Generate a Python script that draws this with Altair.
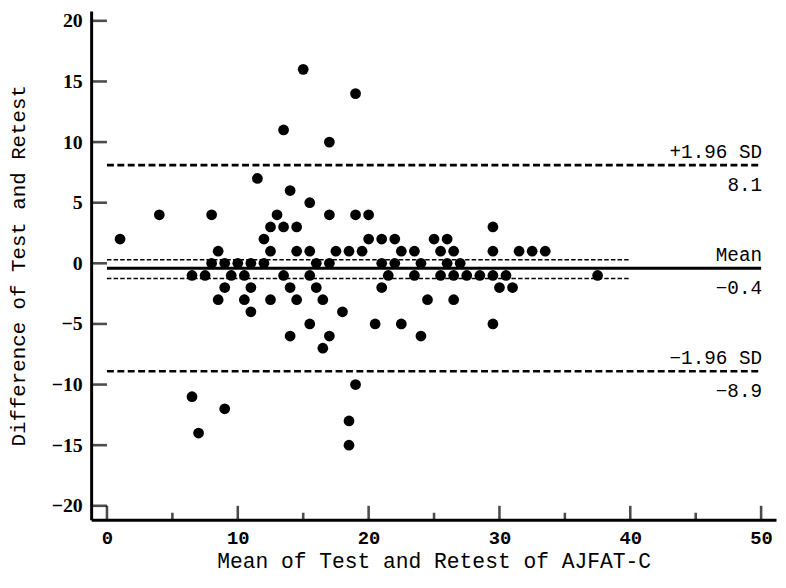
import altair as alt
import pandas as pd

# Bland-Altman data: mean of test/retest (x) and difference (y)
mean_vals = [1, 4, 6.5, 6.5, 7, 7.5, 8, 8, 8.5, 8.5, 9, 9, 9, 9.5, 10, 10.5, 10.5,
             11, 11, 11, 11.5, 12, 12, 12.5, 12.5, 12.5, 13, 13.5, 13.5, 13.5,
             14, 14, 14, 14.5, 14.5, 14.5, 15, 15.5, 15.5, 15.5, 15.5, 16, 16,
             16.5, 16.5, 17, 17, 17, 17, 17.5, 18, 18.5, 18.5, 18.5, 19, 19, 19,
             19.5, 20, 20, 20.5, 21, 21, 21, 21.5, 22, 22, 22.5, 22.5, 23.5, 23.5,
             24, 24, 24.5, 25, 25.5, 25.5, 26, 26, 26.5, 26.5, 26.5, 27, 27.5,
             28.5, 29.5, 29.5, 29.5, 29.5, 30, 30.5, 31, 31.5, 32.5, 33.5, 37.5]
diff_vals = [2, 4, -1, -11, -14, -1, 4, 0, 1, -3, 0, -2, -12, -1, 0, -1, -3,
             0, -2, -4, 7, 2, 0, 3, 1, -3, 4, 11, 3, -1,
             6, -2, -6, 3, 1, -3, 16, 5, 1, -1, -5, 0, -2,
             -3, -7, 10, 4, 0, -6, 1, -4, 1, -13, -15, 14, 4, -10,
             1, 4, 2, -5, 2, 0, -2, -1, 2, 0, 1, -5, 1, -1,
             0, -6, -3, 2, 1, -1, 2, 0, 1, -1, -3, 0, -1,
             -1, 3, 1, -1, -5, -2, -1, -2, 1, 1, 1, -1]

# Reference lines
sd_levels = [8.1, -8.9]
mean_level = [-0.4]
ci_levels = [0.3, -1.25]
line_start = 0
line_end = 50
ci_end = 40

# Annotations
label_above = ["+1.96 SD", "Mean", "−1.96 SD"]
label_below = ["8.1", "−0.4", "−8.9"]
label_levels = [8.1, -0.4, -8.9]

x_ticks_major = [0, 10, 20, 30, 40, 50]
x_ticks_minor = [5, 15, 25, 35, 45]
y_ticks = [-20, -15, -10, -5, 0, 5, 10, 15, 20]

W, H = 692, 514
xs = alt.Scale(domain=[-1.21, 51.14], nice=False, zero=False)
ys = alt.Scale(domain=[-21.143, 20.816], nice=False, zero=False)

MONO = "Liberation Mono"

pts = pd.DataFrame({"m": mean_vals, "d": diff_vals})

points = alt.Chart(pts).mark_circle(size=118, color="black", opacity=1).encode(
    x=alt.X("m:Q", scale=xs, axis=alt.Axis(
        values=x_ticks_major, ticks=False, grid=False, domainColor="black",
        domainWidth=3, labelFont=MONO, labelFontSize=19, labelFontWeight="bold",
        labelColor="black", labelPadding=9,
        title="Mean of Test and Retest of AJFAT-C",
        titleFont=MONO, titleFontSize=21.5, titleFontWeight="normal",
        titleColor="black", titlePadding=3)),
    y=alt.Y("d:Q", scale=ys, axis=alt.Axis(
        values=y_ticks, ticks=False, grid=False, domainColor="black",
        domainWidth=3, labelFont="Liberation Serif", labelFontWeight="bold",
        labelFontSize=20, labelColor="black", labelPadding=9,
        title="Difference of Test and Retest", titleFont=MONO,
        titleFontSize=21, titleFontWeight="normal", titleColor="black",
        titlePadding=23)),
)

sd_df = pd.DataFrame({"y": sd_levels, "x0": [line_start] * 2, "x1": [line_end] * 2})
sd_lines = alt.Chart(sd_df).mark_rule(color="black", strokeWidth=2.6, strokeDash=[7, 3.5]).encode(
    x=alt.X("x0:Q", scale=xs), x2="x1:Q", y=alt.Y("y:Q", scale=ys))

mean_df = pd.DataFrame({"y": mean_level, "x0": [line_start], "x1": [line_end]})
mean_line = alt.Chart(mean_df).mark_rule(color="black", strokeWidth=3).encode(
    x=alt.X("x0:Q", scale=xs), x2="x1:Q", y=alt.Y("y:Q", scale=ys))

ci_df = pd.DataFrame({"y": ci_levels, "x0": [line_start] * 2, "x1": [ci_end] * 2})
ci_lines = alt.Chart(ci_df).mark_rule(color="black", strokeWidth=1.6, strokeDash=[4.5, 2.2]).encode(
    x=alt.X("x0:Q", scale=xs), x2="x1:Q", y=alt.Y("y:Q", scale=ys))

lab_df = pd.DataFrame({"x": [line_end] * 3, "y": label_levels,
                       "above": label_above, "below": label_below})
text_above = alt.Chart(lab_df).mark_text(
    align="right", baseline="alphabetic", dx=1, dy=-7, font=MONO,
    fontSize=19.5, color="black").encode(
    x=alt.X("x:Q", scale=xs), y=alt.Y("y:Q", scale=ys), text="above:N")
text_below = alt.Chart(lab_df).mark_text(
    align="right", baseline="top", dx=1, dy=11, font=MONO,
    fontSize=19.5, color="black").encode(
    x=alt.X("x:Q", scale=xs), y=alt.Y("y:Q", scale=ys), text="below:N")

ytick_layer = alt.Chart(pd.DataFrame({"v": y_ticks})).mark_tick(
    orient="horizontal", size=16, thickness=2.6, color="black").encode(
    y=alt.Y("v:Q", scale=ys), x=alt.value(8))
xmaj_layer = alt.Chart(pd.DataFrame({"v": x_ticks_major})).mark_tick(
    orient="vertical", size=14, thickness=2.6, color="black").encode(
    x=alt.X("v:Q", scale=xs), y=alt.value(H - 7))
xmin_layer = alt.Chart(pd.DataFrame({"v": x_ticks_minor})).mark_tick(
    orient="vertical", size=7, thickness=2.6, color="black").encode(
    x=alt.X("v:Q", scale=xs), y=alt.value(H - 3.5))

chart = alt.layer(
    sd_lines, ci_lines, mean_line, points, text_above, text_below,
    ytick_layer, xmaj_layer, xmin_layer
).properties(
    width=W, height=H,
    autosize=alt.AutoSizeParams(type="none"),
    padding={"left": 84, "top": 0, "right": 2, "bottom": 58},
    background="white",
).configure_view(stroke=None)

chart.save("out.html", embed_options={"renderer": "svg", "actions": False})
